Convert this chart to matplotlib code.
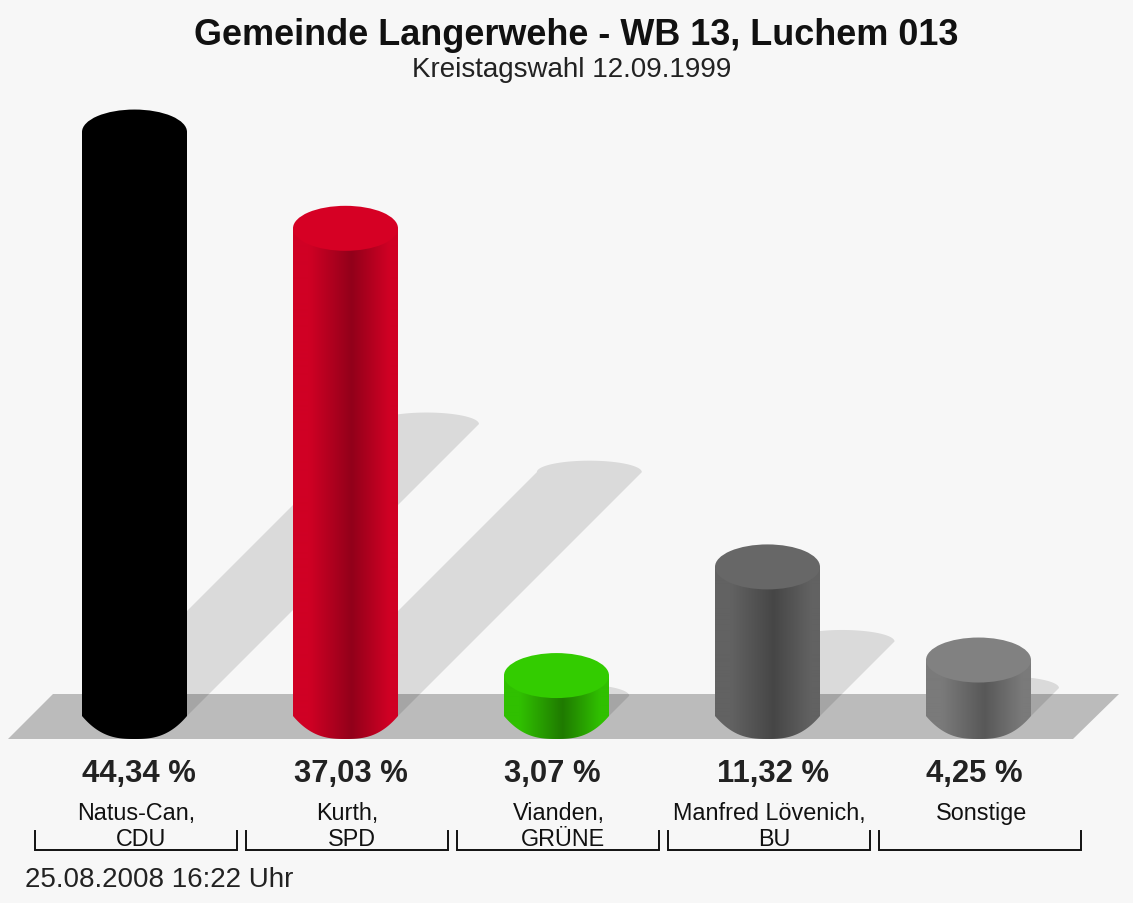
import numpy as np
import matplotlib
matplotlib.use("Agg")
import matplotlib.pyplot as plt
from matplotlib.colors import LinearSegmentedColormap
from matplotlib.patches import Ellipse, Polygon, PathPatch
from matplotlib.path import Path

values = [44.34, 37.03, 3.07, 11.32, 4.25]
value_labels = ["44,34 %", "37,03 %", "3,07 %", "11,32 %", "4,25 %"]
names = ["Natus-Can,", "Kurth,", "Vianden,", "Manfred Lövenich,", "Sonstige"]
parties = ["CDU", "SPD", "GRÜNE", "BU", ""]
top_colors = ["#000000", "#d60024", "#33cc00", "#676767", "#818181"]
edge_colors = ["#000000", "#d00024", "#30c000", "#626262", "#7a7a7a"]
dark_colors = ["#000000", "#92001a", "#1f7a00", "#464646", "#585858"]
title = "Gemeinde Langerwehe - WB 13, Luchem 013"
subtitle = "Kreistagswahl 12.09.1999"
stamp = "25.08.2008 16:22 Uhr"

W, H = 1133, 904
BG = "#f7f7f7"
# pixel layout of the value scales
X0, DX = 134.5, 211.0      # first bar centre, bar spacing (px)
Y0, SY = 717.0, 13.17      # pixel row of value 0, px per percent
R, RY = 52.5, 22.5         # cylinder radii (px)
SH_RY = 11.5               # shadow cap half-height (px)
value_dx = [4, 5, -4.5, 6, -4]     # label offsets from the bar centre (px)
name_dx = [2, 2, 2.5, 2, 3]
party_dx = [6.5, 6, 6.5, 7]

plt.rcParams["font.family"] = ["Liberation Sans", "DejaVu Sans"]
fig = plt.figure(figsize=(W / 100, H / 100), dpi=100, facecolor=BG)
ax = fig.add_axes([0, 0, 1, 1])
ax.axis("off")

px = lambda d: d / DX   # horizontal pixels -> x units
py = lambda d: d / SY   # vertical pixels -> percent units
xpix = lambda p: (p - X0) / DX
ypix = lambda p: (Y0 - p) / SY

# floor
ax.add_patch(Polygon([(xpix(8), ypix(740)), (xpix(53), ypix(695)),
                      (xpix(1119), ypix(695)), (xpix(1073), ypix(740))],
                     closed=True, fc="#bbbbbb", ec="none", zorder=1))

t = np.linspace(0, np.pi, 60)
u = np.linspace(-1, 1, 80)
for i, v in enumerate(values):
    # shadow: the cylinder sheared up and right at 45 degrees, half as long
    off = v * SY * 0.5
    sx = i + px(off) + px(R) * np.cos(t)
    sy = v * 0.5 + py(SH_RY) * np.sin(t)
    verts = [(i - px(R), 0)] + list(zip(sx[::-1], sy[::-1])) + [(i + px(R), 0)]
    ax.add_patch(Polygon(verts, closed=True, fc="black", alpha=0.115, ec="none", zorder=2))

    # body with horizontal shading, clipped to the cylinder outline
    cmap = LinearSegmentedColormap.from_list(
        "c", [(0, edge_colors[i]), (0.15, edge_colors[i]), (0.56, dark_colors[i]),
              (0.92, edge_colors[i]), (1, edge_colors[i])])
    outline = [(i - px(R), v), (i - px(R), 0)] + \
        list(zip(i + px(R) * u, -py(RY + 0.5) * (1 - np.abs(u) ** 2.7))) + [(i + px(R), v)]
    clip = PathPatch(Path(outline + [outline[0]], closed=True), transform=ax.transData,
                     fc="none", ec="none")
    ax.add_patch(clip)
    im = ax.imshow(np.linspace(0, 1, 210)[None, :], cmap=cmap, vmin=0, vmax=1, aspect="auto",
                   extent=(i - px(R), i + px(R), -py(RY + 2), v), zorder=3,
                   interpolation="bilinear")
    im.set_clip_path(clip)
    # top cap
    ax.add_patch(Ellipse((i, v), 2 * px(R), 2 * py(RY), fc=top_colors[i], ec="none", zorder=4))

    # value and name labels, brackets
    ax.text(i + px(value_dx[i]), ypix(782), value_labels[i], ha="center", va="baseline",
            fontsize=22.3, fontweight="bold", color="#222222", zorder=5)
    ax.text(i + px(name_dx[i]), ypix(820), names[i], ha="center", va="baseline", fontsize=16.8,
            color="#111111", zorder=5)
    if parties[i]:
        ax.text(i + px(party_dx[i]), ypix(846), parties[i], ha="center", va="baseline",
                fontsize=16.8, color="#111111", zorder=5)
    bl, br = i + px(1.5 - 101), i + px(1.5 + 101)
    ax.plot([bl, bl, br, br], [ypix(832), ypix(851), ypix(851), ypix(832)],
            color="#111111", lw=1.4, solid_joinstyle="miter", zorder=5)

ax.set_xlim((0 - X0) / DX, (W - X0) / DX)
ax.set_ylim((Y0 - H) / SY, Y0 / SY)

fig.text(576 / W, 1 - 45 / H, title, ha="center", va="baseline", fontsize=25.9, fontweight="bold",
         color="#111111")
fig.text(572 / W, 1 - 77 / H, subtitle, ha="center", va="baseline", fontsize=20, color="#222222")
fig.text(25 / W, 1 - 887 / H, stamp, ha="left", va="baseline", fontsize=20, color="#222222")

fig.savefig("out.png", dpi=100, facecolor=BG)
